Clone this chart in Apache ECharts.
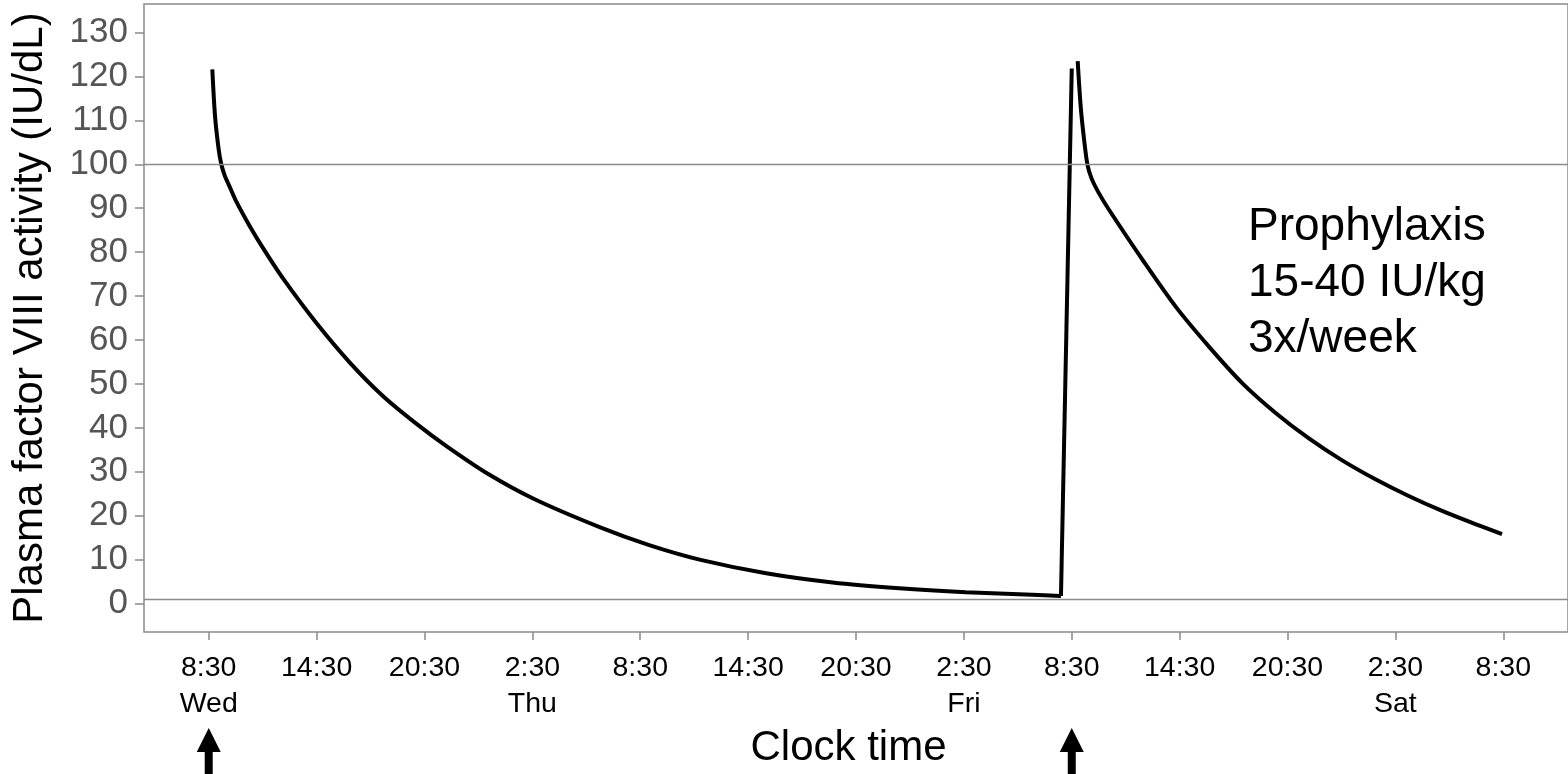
<!DOCTYPE html>
<html>
<head>
<meta charset="utf-8">
<script src="https://cdn.jsdelivr.net/npm/echarts@6/dist/echarts.min.js"></script>
<style>
  html, body { margin: 0; padding: 0; background: #fff; }
  #main { width: 1568px; height: 774px; }
</style>
</head>
<body>
<div id="main"></div>
<script>
// hours after Wed 8:30, FVIII activity (IU/dL)
var firstDecay = [
  [0.2, 121.6], [0.35, 111], [0.55, 103.5], [0.7, 100], [0.9, 97.3], [1.1, 95.5],
  [1.5, 91.8], [2.3, 85.8], [3.04, 80.8], [4.15, 73.9], [6.0, 63.8], [7.86, 54.8],
  [9.7, 47.2], [11.56, 40.9], [13.2, 35.9], [15.5, 29.6], [18.1, 23.8], [21.74, 17.4],
  [24.5, 13.3], [27.3, 10.0], [31.0, 6.9], [34.7, 4.8], [38.4, 3.5], [42.1, 2.6],
  [45.8, 2.0], [47.4, 1.7]
];
// infusion of the second dose
var infusion = [[47.4, 1.7], [48.0, 121.8]];
var secondDecay = [
  [48.33, 123.5], [48.5, 113], [48.69, 105.5], [48.87, 100], [49.1, 96.8], [49.5, 93.5],
  [50.08, 89.6], [51.93, 78.3], [53.78, 67.6], [55.63, 58.5], [57.48, 50.2], [59.34, 43.4],
  [61.19, 37.6], [63.04, 32.6], [64.89, 28.3], [66.74, 24.5], [68.6, 21.1], [70.45, 18.1],
  [71.93, 15.8]
];
var doseTimes = [0, 48];
var refLevels = [1, 100];

var xTicks = [0, 6, 12, 18, 24, 30, 36, 42, 48, 54, 60, 66, 72];
var xTickLabels = ['8:30\nWed', '14:30', '20:30', '2:30\nThu', '8:30', '14:30', '20:30',
  '2:30\nFri', '8:30', '14:30', '20:30', '2:30\nSat', '8:30'];
var yTicks = [0, 10, 20, 30, 40, 50, 60, 70, 80, 90, 100, 110, 120, 130];

var font = 'Liberation Sans, Arial, sans-serif';
var gray = '#8a8a8a';

var chart = echarts.init(document.getElementById('main'), null, { renderer: 'canvas' });

function curve(data, smooth) {
  return {
    type: 'line',
    data: data,
    symbol: 'none',
    smooth: smooth,
    lineStyle: { color: '#000', width: 4 },
    z: 3
  };
}

var series = [
  curve(firstDecay, 0.3),
  curve(infusion, false),
  curve(secondDecay, 0.3)
];
// reference levels 1 and 100 IU/dL
series[0].markLine = {
  silent: true,
  symbol: 'none',
  label: { show: false },
  lineStyle: { color: gray, width: 1.4, type: 'solid' },
  data: refLevels.map(function (v) { return { yAxis: v }; })
};

var option = {
  animation: false,
  textStyle: { fontFamily: font },
  grid: {
    left: 144,
    top: 4,
    width: 1425,
    height: 630,
    show: true,
    borderColor: gray,
    borderWidth: 1.5
  },
  xAxis: {
    type: 'value',
    min: -3.6,
    max: 75.6,
    name: 'Clock time',
    nameLocation: 'middle',
    nameGap: 92,
    nameTextStyle: { fontSize: 42, color: '#000', fontFamily: font, padding: [0, 15, 0, 0] },
    axisLine: { show: false, onZero: false },
    splitLine: { show: false },
    axisTick: {
      show: true,
      customValues: xTicks,
      length: 8,
      lineStyle: { color: gray, width: 1.5 }
    },
    axisLabel: {
      customValues: xTicks,
      margin: 18,
      fontSize: 28.5,
      lineHeight: 36,
      color: '#000',
      fontFamily: font,
      verticalAlign: 'top',
      formatter: function (value) {
        var i = xTicks.indexOf(value);
        return i >= 0 ? xTickLabels[i] : '';
      }
    }
  },
  yAxis: {
    type: 'value',
    min: -6.5,
    max: 136.5,
    name: 'Plasma factor VIII activity (IU/dL)',
    nameLocation: 'middle',
    nameGap: 93,
    nameTextStyle: { fontSize: 42, color: '#000', fontFamily: font },
    axisLine: { show: false, onZero: false },
    splitLine: { show: false },
    axisTick: {
      show: true,
      customValues: yTicks,
      length: 9,
      lineStyle: { color: gray, width: 1.5 }
    },
    axisLabel: {
      customValues: yTicks,
      margin: 16,
      fontSize: 35,
      color: '#555',
      fontFamily: font
    }
  },
  graphic: [
    {
      type: 'text',
      left: 1248,
      top: 199,
      style: {
        text: 'Prophylaxis\n15-40 IU/kg\n3x/week',
        font: '46px ' + font,
        lineHeight: 56,
        fill: '#000'
      }
    }
  ],
  series: series
};

chart.setOption(option);

// dose arrows under the x axis
var arrows = [];
doseTimes.forEach(function (t) {
  var x = chart.convertToPixel({ xAxisIndex: 0 }, t);
  arrows.push({
    type: 'polygon',
    shape: { points: [[x, 728], [x - 12, 752], [x + 12, 752]] },
    style: { fill: '#000' }
  });
  arrows.push({
    type: 'rect',
    shape: { x: x - 4, y: 750, width: 8, height: 30 },
    style: { fill: '#000' }
  });
});
chart.setOption({ graphic: option.graphic.concat(arrows) });
</script>
</body>
</html>
